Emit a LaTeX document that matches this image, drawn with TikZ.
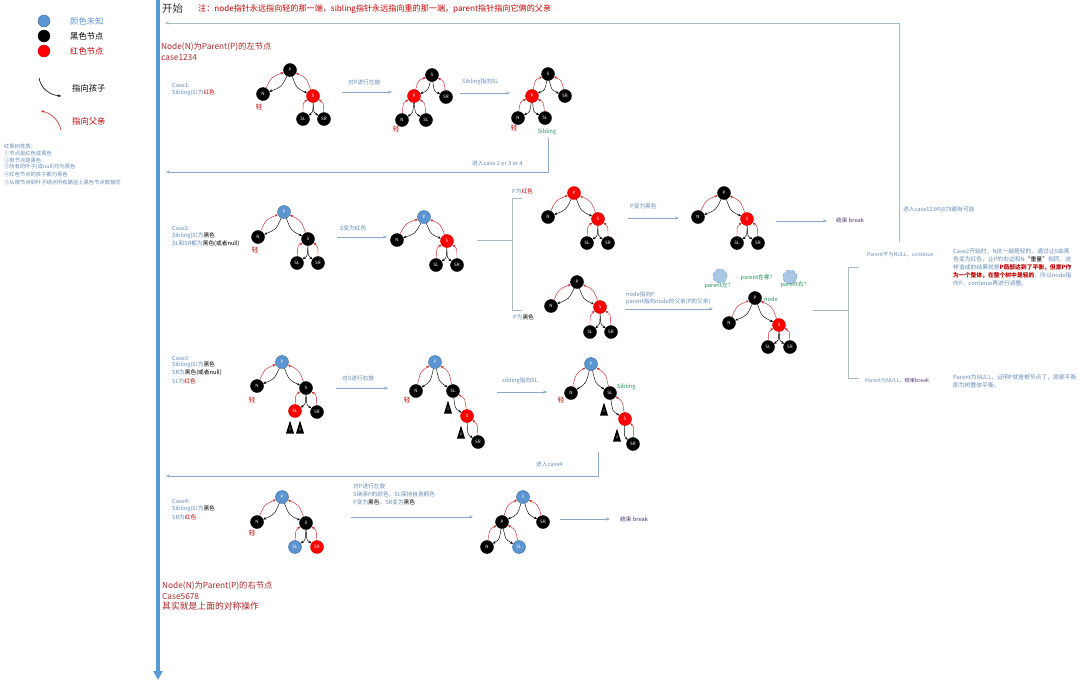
\documentclass[tikz,border=0pt]{standalone}
\usepackage{fontspec}
\setmainfont{Noto Sans CJK SC}
\usetikzlibrary{arrows.meta,calc}
\definecolor{mainblue}{RGB}{91,155,213}
\definecolor{nodeblue}{RGB}{91,150,210}
\definecolor{nodered}{RGB}{255,0,0}
\definecolor{darkred}{RGB}{192,0,0}
\definecolor{titlered}{RGB}{170,40,40}
\definecolor{lblc}{RGB}{100,140,185}
\definecolor{flowc}{RGB}{140,170,200}
\definecolor{linec}{RGB}{170,185,200}
\definecolor{greenc}{RGB}{40,150,90}
\definecolor{purplec}{RGB}{80,50,110}
\definecolor{arrred}{RGB}{200,40,40}
\definecolor{ghost}{RGB}{170,200,230}
\newcommand\fs[1]{\fontsize{#1}{#1}\selectfont}
\tikzset{
 bn/.style={circle, fill=black, draw=black, minimum size=13pt, inner sep=0pt, text=white, font=\fs{4.5}},
 rn/.style={bn, fill=nodered, draw=red!80!black},
 un/.style={bn, fill=nodeblue, draw=nodeblue!70!black},
 gn/.style={circle, fill=ghost, draw=nodeblue, dashed, minimum size=14pt, inner sep=0pt},
 ca/.style={-{Stealth[length=3pt,width=2.6pt]}, line width=0.45pt, black},
 pa/.style={-{Stealth[length=3pt,width=2.6pt]}, line width=0.45pt, arrred},
 flow/.style={-{Stealth[length=4pt,width=3.2pt]}, flowc, line width=0.7pt},
 bline/.style={linec, line width=0.7pt},
 lbl/.style={anchor=west, inner sep=0pt, font=\fs{5.7}, text=lblc},
 glbl/.style={lbl, text=greenc},
 light/.style={anchor=center, inner sep=0pt, font=\fs{6.5}, text=darkred},
 title/.style={anchor=west, inner sep=0pt, font=\fs{8.3}, text=titlered},
 legt/.style={anchor=west, inner sep=0pt, font=\fs{8.3}, text=black},
 tlab/.style={inner sep=0pt, font=\fs{3.5}, text=white},
}
% y grows downwards: (+,+) offset = lower right on the page
\newcommand\lchild[2]{%
 \draw[ca] (#1) .. controls ($(#1)!0.5!(#2)+(5,5)$) .. (#2);
 \draw[pa] (#2) .. controls ($(#1)!0.5!(#2)+(-5,-5)$) .. (#1);}
\newcommand\rchild[2]{%
 \draw[ca] (#1) .. controls ($(#1)!0.5!(#2)+(-5,5)$) .. (#2);
 \draw[pa] (#2) .. controls ($(#1)!0.5!(#2)+(5,-5)$) .. (#1);}
\newcommand\subtree[4]{\fill[black] ({#2-4},{#3+6.5}) -- ({#2},{#3-6.5}) -- ({#2+4},{#3+6.5}) -- cycle; \node[tlab] (#1) at (#2,{#3+2.5}) {#4};}
\begin{document}
\begin{tikzpicture}[x=1pt,y=-1pt]
\useasboundingbox[fill=white] (0,0) rectangle (1080,681);

% ---------- legend ----------
\node[un, minimum size=12pt] (lgB) at (44,21) {};
\node[bn, minimum size=12pt] (lgK) at (44,36) {};
\node[rn, minimum size=12pt] (lgR) at (44,51) {};
\node[legt, text=nodeblue] (lgBt) at (70,21) {颜色未知};
\node[legt] (lgKt) at (70,36) {黑色节点};
\node[legt, text=darkred] (lgRt) at (70,51) {红色节点};
\coordinate (lgA1) at (39,78); \coordinate (lgA2) at (61,96);
\draw[ca, line width=0.6pt] (lgA1) .. controls (41,89) and (50,95) .. (lgA2);
\node[legt] (lgAt) at (72,88) {指向孩子};
\coordinate (lgP1) at (61,130); \coordinate (lgP2) at (41,111);
\draw[pa, line width=0.6pt] (lgP1) .. controls (59,120) and (51,113) .. (lgP2);
\node[legt, text=darkred] (lgPt) at (72,121) {指向父亲};
\node[lbl, font=\fs{5.3}] (pr0) at (4,146) {红黑树性质：};
\node[lbl, font=\fs{5.3}] (pr1) at (4,153) {①节点是红色或黑色};
\node[lbl, font=\fs{5.3}] (pr2) at (4,160) {②根节点是黑色};
\node[lbl, font=\fs{5.3}] (pr3) at (4,167) {③所有的叶子(或null)均为黑色};
\node[lbl, font=\fs{5.3}] (pr4) at (4,174) {④红色节点的孩子都为黑色};
\node[lbl, font=\fs{5.3}] (pr5) at (4,182) {⑤从根节点到叶子结点所有路径上黑色节点数相同};

% ---------- main axis ----------
\coordinate (mTop) at (158,0); \coordinate (mBot) at (158,680);
\draw[line width=3.6pt, mainblue, -{Triangle[length=9pt,width=9pt]}] (mTop) -- (mBot);
\node[anchor=west, inner sep=0pt, font=\fs{10.5}, text=black!80] (start) at (162,9) {开始};
\node[anchor=west, inner sep=0pt, font=\fs{8.1}, text=darkred] (note) at (198,9) {注：node指针永远指向轻的那一端，sibling指针永远指向重的那一端，parent指针指向它俩的父亲};
\node[title] (ttl1) at (161,47) {Node(N)为Parent(P)的左节点};
\node[title] (ttl2) at (161,58) {case1234};

% loop back line
\coordinate (loopS) at (899,242); \coordinate (loopC) at (899,23); \coordinate (loopE) at (165,23);
\draw[flow, draw=linec] (loopS) -- (loopC) -- (loopE);
\node[lbl] (loopT) at (903,209) {进入case12345678都有可能};

% ---------- Case 1 ----------
\node[lbl] (c1a) at (172,85) {Case1:};
\node[lbl] (c1b) at (172,93) {Sibling(S)为\textcolor{darkred}{红色}};
\node[bn] (aP) at (290,70) {P};
\node[bn] (aN) at (263,94) {N};
\node[rn] (aS) at (313,96) {S};
\node[bn] (aSL) at (303,119) {SL};
\node[bn] (aSR) at (324,119) {SR};
\lchild{aP}{aN} \rchild{aP}{aS} \lchild{aS}{aSL} \rchild{aS}{aSR}
\node[light] (aL) at (259,107) {轻};
\coordinate (f1s) at (342,92); \coordinate (f1e) at (392,92);
\draw[flow] (f1s) -- (f1e);
\node[lbl] (f1t) at (348,82) {对P进行左旋};
\node[bn] (bS) at (432,75) {S};
\node[rn] (bP) at (414,96) {P};
\node[bn] (bSR) at (446,97) {SR};
\node[bn] (bN) at (402,120) {N};
\node[bn] (bSL) at (426,120) {SL};
\lchild{bS}{bP} \rchild{bS}{bSR} \lchild{bP}{bN} \rchild{bP}{bSL}
\node[light] (bL) at (396,129) {轻};
\coordinate (f2s) at (460,93); \coordinate (f2e) at (510,93);
\draw[flow] (f2s) -- (f2e);
\node[lbl] (f2t) at (462,82) {Sibling指向SL};
\node[bn] (cS) at (548,74) {S};
\node[rn] (cP) at (532,96) {P};
\node[bn] (cSR) at (565,96) {SR};
\node[bn] (cN) at (518,118) {N};
\node[bn] (cSL) at (545,118) {SL};
\lchild{cS}{cP} \rchild{cS}{cSR} \lchild{cP}{cN} \rchild{cP}{cSL}
\node[light] (cL) at (514,128) {轻};
\node[glbl, anchor=center] (cSib) at (547,132) {Sibling};
\coordinate (r1s) at (548,138); \coordinate (r1c) at (548,172); \coordinate (r1e) at (166,172);
\draw[flow] (r1s) -- (r1c) -- (r1e);
\node[lbl] (r1t) at (472,163) {进入case 2 or 3 or 4};

% ---------- Case 2 ----------
\node[lbl] (c2a) at (172,228) {Case2:};
\node[lbl] (c2b) at (172,236) {Sibling(S)为\textcolor{black}{黑色}};
\node[lbl] (c2c) at (172,244) {SL和SR都为\textcolor{black}{黑色(或者null)}};
\node[un] (dP) at (284,212) {P};
\node[bn] (dN) at (258,237) {N};
\node[bn] (dS) at (308,239) {S};
\node[bn] (dSL) at (297,263) {SL};
\node[bn] (dSR) at (318,263) {SR};
\lchild{dP}{dN} \rchild{dP}{dS} \lchild{dS}{dSL} \rchild{dS}{dSR}
\node[light] (dL) at (255,250) {轻};
\coordinate (f3s) at (337,237); \coordinate (f3e) at (387,237);
\draw[flow] (f3s) -- (f3e);
\node[lbl] (f3t) at (340,228) {S变为红色};
\node[un] (eP) at (424,217) {P};
\node[bn] (eN) at (397,240) {N};
\node[rn] (eS) at (447,241) {S};
\node[bn] (eSL) at (436,265) {SL};
\node[bn] (eSR) at (457,265) {SR};
\lchild{eP}{eN} \rchild{eP}{eS} \lchild{eS}{eSL} \rchild{eS}{eSR}
% split bracket
\coordinate (b1s) at (477,240); \coordinate (b1m) at (512,240);
\coordinate (b1t) at (512,198); \coordinate (b1tt) at (522,198);
\coordinate (b1b) at (512,310); \coordinate (b1bb) at (522,310);
\draw[bline] (b1s) -- (b1m);
\draw[bline] (b1tt) -- (b1t) -- (b1b) -- (b1bb);
\node[lbl] (pRed) at (512,191) {P为\textcolor{darkred}{红色}};
\node[lbl] (pBlk) at (513,317) {P为\textcolor{black}{黑色}};
% upper branch
\node[rn] (fP) at (574,193) {P};
\node[bn] (fN) at (548,217) {N};
\node[rn] (fS) at (598,219) {S};
\node[bn] (fSL) at (587,243) {SL};
\node[bn] (fSR) at (608,243) {SR};
\lchild{fP}{fN} \rchild{fP}{fS} \lchild{fS}{fSL} \rchild{fS}{fSR}
\coordinate (f4s) at (628,218); \coordinate (f4e) at (679,218);
\draw[flow] (f4s) -- (f4e);
\node[lbl] (f4t) at (630,206) {P变为黑色};
\node[bn] (gP) at (724,193) {P};
\node[bn] (gN) at (698,217) {N};
\node[rn] (gS) at (747,219) {S};
\node[bn] (gSL) at (737,243) {SL};
\node[bn] (gSR) at (758,243) {SR};
\lchild{gP}{gN} \rchild{gP}{gS} \lchild{gS}{gSL} \rchild{gS}{gSR}
\coordinate (f5s) at (776,221); \coordinate (f5e) at (827,221);
\draw[flow] (f5s) -- (f5e);
\node[lbl, text=purplec] (end1) at (836,220) {结束 break};
% lower branch
\node[bn] (hP) at (577,282) {P};
\node[bn] (hN) at (551,306) {N};
\node[rn] (hS) at (600,307) {S};
\node[bn] (hSL) at (590,332) {SL};
\node[bn] (hSR) at (611,332) {SR};
\lchild{hP}{hN} \rchild{hP}{hS} \lchild{hS}{hSL} \rchild{hS}{hSR}
\coordinate (f6s) at (625,309); \coordinate (f6e) at (713,309);
\draw[flow] (f6s) -- (f6e);
\node[lbl] (f6t) at (626,294) {node指向P};
\node[lbl] (f6u) at (626,302) {parent指向node的父亲(P的父亲)};
\node[bn] (iP) at (755,298) {P};
\node[bn] (iN) at (729,323) {N};
\node[rn] (iS) at (779,325) {S};
\node[bn] (iSL) at (768,347) {SL};
\node[bn] (iSR) at (790,347) {SR};
\lchild{iP}{iN} \rchild{iP}{iS} \lchild{iS}{iSL} \rchild{iS}{iSR}
\node[glbl] (iNode) at (764,299) {node};
\node[gn] (gpL) at (720,276) {};
\node[gn] (gpR) at (790,277) {};
\node[glbl, anchor=center] (gpLt) at (719,286) {parent左？};
\node[glbl, anchor=center] (gpMt) at (758,278) {parent在哪？};
\node[glbl, anchor=center] (gpRt) at (795,285) {parent右？};
% second split
\coordinate (b2s) at (813,310); \coordinate (b2m) at (848,310);
\coordinate (b2t) at (848,267); \coordinate (b2tt) at (859,267);
\coordinate (b2b) at (848,378); \coordinate (b2bb) at (859,378);
\draw[bline] (b2s) -- (b2m);
\draw[bline] (b2tt) -- (b2t) -- (b2b) -- (b2bb);
\node[lbl, font=\fs{5.2}] (pNN) at (867,255) {Parent不为NULL，continue};
\node[lbl, font=\fs{5.2}] (pIN) at (865,381) {Parent为NULL，\textcolor{purplec}{结束break}};
\node[lbl, font=\fs{5.8}] (pa1) at (953,251) {Case2开始时，N这一端是轻的，通过让S由黑};
\node[lbl, font=\fs{5.8}] (pa2) at (953,259) {色变为红色，让P的右边和N\textcolor{black}{“重量”}相同，这};
\node[lbl, font=\fs{5.8}] (pa3) at (953,267) {样造成的结果就是\textcolor{darkred}{\textbf{P局部达到了平衡，但是P作}}};
\node[lbl, font=\fs{5.8}] (pa4) at (953,275) {\textcolor{darkred}{\textbf{为一个整体，在整个树中是轻的}}，所以node指};
\node[lbl, font=\fs{5.8}] (pa5) at (953,283) {向P，continue再进行调整。};
\node[lbl, font=\fs{5.8}] (pb1) at (953,377) {Parent为NULL，证明P就是根节点了，局部平衡};
\node[lbl, font=\fs{5.8}] (pb2) at (953,385) {即为树整体平衡。};

% ---------- Case 3 ----------
\node[lbl] (c3a) at (172,358) {Case3:};
\node[lbl] (c3b) at (172,365) {Sibling(S)为\textcolor{black}{黑色}};
\node[lbl] (c3c) at (172,373) {SR为\textcolor{black}{黑色(或者null)}};
\node[lbl] (c3d) at (172,381) {SL为\textcolor{darkred}{红色}};
\node[un] (jP) at (282,362) {P};
\node[bn] (jN) at (257,386) {N};
\node[bn] (jS) at (306,388) {S};
\node[rn] (jSL) at (295,411) {SL};
\node[bn] (jSR) at (317,412) {SR};
\lchild{jP}{jN} \rchild{jP}{jS} \lchild{jS}{jSL} \rchild{jS}{jSR}
\subtree{jT1}{290}{427}{1}
\subtree{jT2}{300}{427}{2}
\node[light] (jL) at (252,400) {轻};
\coordinate (f7s) at (336,388); \coordinate (f7e) at (388,388);
\draw[flow] (f7s) -- (f7e);
\node[lbl] (f7t) at (342,378) {对S进行右旋};
\node[un] (kP) at (435,362) {P};
\node[bn] (kN) at (416,391) {N};
\node[bn] (kSL) at (453,391) {SL};
\node[rn] (kS) at (467,416) {S};
\node[bn] (kSR) at (478,442) {SR};
\lchild{kP}{kN} \rchild{kP}{kSL} \rchild{kSL}{kS} \rchild{kS}{kSR}
\subtree{kT1}{448}{407}{1}
\subtree{kT2}{461}{432}{2}
\node[light] (kL) at (407,400) {轻};
\coordinate (f8s) at (497,392); \coordinate (f8e) at (547,392);
\draw[flow] (f8s) -- (f8e);
\node[lbl] (f8t) at (502,381) {sibling指向SL};
\node[un] (lP) at (591,364) {P};
\node[bn] (lN) at (571,393) {N};
\node[bn] (lSL) at (610,393) {SL};
\node[rn] (lS) at (625,419) {S};
\node[bn] (lSR) at (633,444) {SR};
\lchild{lP}{lN} \rchild{lP}{lSL} \rchild{lSL}{lS} \rchild{lS}{lSR}
\subtree{lT1}{604}{409}{1}
\subtree{lT2}{617}{435}{2}
\node[light] (lL) at (561,400) {轻};
\node[glbl] (lSib) at (617,387) {Sibling};
\coordinate (r2s) at (598,452); \coordinate (r2c) at (598,476); \coordinate (r2e) at (166,476);
\draw[flow] (r2s) -- (r2c) -- (r2e);
\node[lbl] (r2t) at (536,464) {进入case4};

% ---------- Case 4 ----------
\node[lbl] (c4a) at (172,501) {Case4:};
\node[lbl] (c4b) at (172,509) {Sibling(S)为\textcolor{black}{黑色}};
\node[lbl] (c4c) at (172,517) {SR为\textcolor{darkred}{红色}};
\node[un] (mP) at (282,497) {P};
\node[bn] (mN) at (257,522) {N};
\node[bn] (mS) at (306,523) {S};
\node[un] (mSL) at (295,547) {SL};
\node[rn] (mSR) at (317,547) {SR};
\lchild{mP}{mN} \rchild{mP}{mS} \lchild{mS}{mSL} \rchild{mS}{mSR}
\node[light] (mL) at (252,533) {轻};
\coordinate (f9s) at (351,517); \coordinate (f9e) at (473,517);
\draw[flow] (f9s) -- (f9e);
\node[lbl] (f9a) at (353,486) {对P进行左旋};
\node[lbl] (f9b) at (353,494) {S继承P的颜色，SL保持自身颜色};
\node[lbl] (f9c) at (353,502) {P变为\textcolor{black}{黑色}，SR变为\textcolor{black}{黑色}};
\node[un] (nS) at (523,497) {S};
\node[bn] (nP) at (502,522) {P};
\node[bn] (nSR) at (543,522) {SR};
\node[bn] (nN) at (487,547) {N};
\node[un] (nSL) at (519,547) {SL};
\lchild{nS}{nP} \rchild{nS}{nSR} \lchild{nP}{nN} \rchild{nP}{nSL}
\coordinate (f10s) at (560,519); \coordinate (f10e) at (610,519);
\draw[flow] (f10s) -- (f10e);
\node[lbl, text=purplec] (end2) at (620,519) {结束 break};

% ---------- bottom ----------
\node[title] (ttl3) at (162,586) {Node(N)为Parent(P)的右节点};
\node[title] (ttl4) at (162,596) {Case5678};
\node[title, font=\fs{8.8}] (ttl5) at (162,606) {其实就是上面的对称操作};
\end{tikzpicture}
\end{document}
